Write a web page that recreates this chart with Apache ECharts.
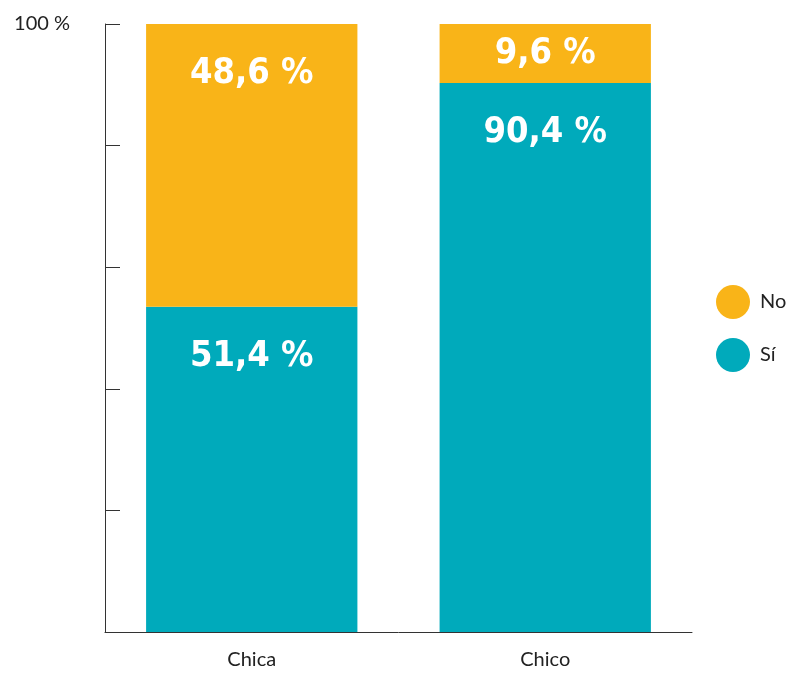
<!DOCTYPE html>
<html>
<head>
<meta charset="utf-8">
<script src="https://cdn.jsdelivr.net/npm/echarts@6/dist/echarts.min.js"></script>
<style>html,body{margin:0;padding:0;background:#fff}#c{width:794px;height:673px}</style>
</head>
<body>
<div id="c"></div>
<script>
const categories = ['Chica', 'Chico'];
// bar heights as drawn in the picture
const siValues = [53.5, 90.3];
const noValues = [46.5, 9.7];
// percentages printed on the bars
const siLabels = ['51,4 %', '90,4 %'];
const noLabels = ['48,6 %', '9,6 %'];
const yTicks = [0, 20, 40, 60, 80, 100];

const labelBase = {
  show: true,
  position: 'insideTop',
  distance: 32,
  color: '#fff',
  fontFamily: '"Liberation Sans Narrow","DejaVu Sans Condensed",sans-serif',
  fontWeight: 'bold',
  fontSize: 36
};

const chart = echarts.init(document.getElementById('c'));
chart.setOption({
  animation: false,
  grid: { left: 105, right: 102, top: 24, bottom: 41 },
  legend: {
    data: ['No', 'Sí'],
    orient: 'vertical',
    left: 711, top: 280,
    icon: 'circle',
    itemWidth: 34, itemHeight: 34, itemGap: 19,
    textStyle: { fontFamily: 'Lato, sans-serif', fontSize: 20, color: '#222', padding: [0, 0, 0, 5] }
  },
  xAxis: {
    type: 'category',
    data: categories,
    axisLine: { lineStyle: { color: '#333', width: 1 } },
    axisTick: { inside: true, length: 15, lineStyle: { color: '#333' } },
    axisLabel: { margin: 18, fontFamily: 'Lato, sans-serif', fontSize: 20, color: '#222' }
  },
  yAxis: {
    type: 'value',
    min: yTicks[0], max: yTicks[yTicks.length - 1], interval: 20,
    axisLine: { show: true, lineStyle: { color: '#333', width: 1 } },
    axisTick: { show: true, inside: true, length: 15, lineStyle: { color: '#333' } },
    splitLine: { show: false },
    axisLabel: {
      margin: 35, fontFamily: 'Lato, sans-serif', fontSize: 20, color: '#222',
      formatter: v => v === 100 ? '100 %' : ''
    }
  },
  series: [
    {
      name: 'Sí', type: 'bar', stack: 't', barWidth: '72%',
      itemStyle: { color: '#00AABB' },
      label: Object.assign({}, labelBase, { formatter: p => siLabels[p.dataIndex] }),
      data: siValues
    },
    {
      name: 'No', type: 'bar', stack: 't', barWidth: '72%',
      itemStyle: { color: '#F9B418' },
      label: Object.assign({}, labelBase, { formatter: p => noLabels[p.dataIndex] }),
      data: noValues.map(v => v < 20 ? { value: v, label: { position: 'inside' } } : v)
    }
  ]
});
</script>
</body>
</html>
